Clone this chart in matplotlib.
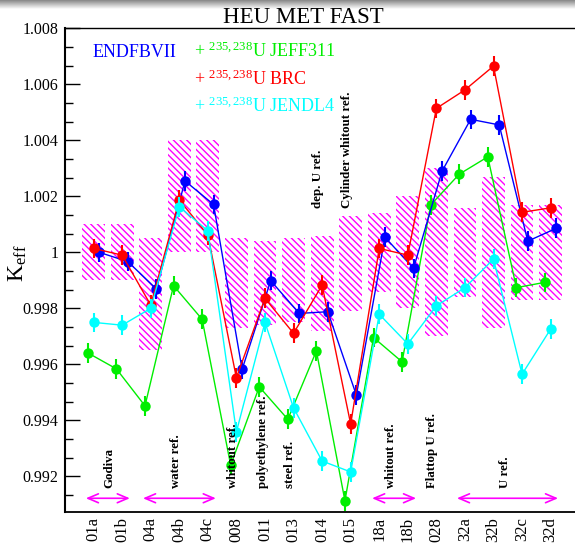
import numpy as np
import matplotlib
matplotlib.use('Agg')
import matplotlib.pyplot as plt
from matplotlib.ticker import MultipleLocator, AutoMinorLocator, FuncFormatter

plt.rcParams['font.family'] = ['Liberation Serif', 'DejaVu Serif']
plt.rcParams['mathtext.fontset'] = 'custom'
plt.rcParams['mathtext.rm'] = 'Liberation Serif'
plt.rcParams['mathtext.it'] = 'Liberation Serif:italic'
plt.rcParams['hatch.linewidth'] = 1.0

# benchmark cases (HEU-MET-FAST-xxx)
cases = ['01a', '01b', '04a', '04b', '04c', '008', '011', '013', '014',
         '015', '18a', '18b', '028', '32a', '32b', '32c', '32d']

# calculated keff per library
endfb7 = [1.00000, 0.99967, 0.99869, 1.00255, 1.00171, 0.99582, 0.99899, 0.99782, 0.99788,
          0.99490, 1.00054, 0.99943, 1.00290, 1.00475, 1.00455, 1.00040, 1.00086]
jeff311 = [0.99641, 0.99584, 0.99452, 0.99881, 0.99761, 0.99240, 0.99520, 0.99404, 0.99648,
           0.99113, 0.99696, 0.99609, 1.00169, 1.00279, 1.00341, 0.99874, 0.99893]
brc = [1.00014, 0.99990, 0.99812, 1.00187, 1.00062, 0.99552, 0.99836, 0.99711, 0.99883,
       0.99387, 1.00014, 0.99990, 1.00514, 1.00580, 1.00665, 1.00143, 1.00159]
jendl4 = [0.99750, 0.99740, 0.99800, 1.00163, 1.00077, 0.99359, 0.99750, 0.99445, 0.99255,
          0.99216, 0.99779, 0.99673, 0.99809, 0.99874, 0.99976, 0.99565, 0.99726]
stat_err = 0.00035

# benchmark experimental uncertainty band
exp_low = [0.9990, 0.9990, 0.9965, 1.0000, 1.0000, 0.9973, 0.9974, 0.9975, 0.9972,
           0.9979, 0.9986, 0.9980, 0.9970, 0.9984, 0.9973, 0.9983, 0.9983]
exp_high = [1.0010, 1.0010, 1.0005, 1.0040, 1.0040, 1.0005, 1.0004, 1.0005, 1.0006,
            1.0013, 1.0014, 1.0020, 1.0030, 1.0016, 1.0027, 1.0017, 1.0017]

# group labels: text, x position, anchored low / high
notes = [('Godiva', 0.57, 'low'), ('water ref.', 2.87, 'low'), ('whitout ref.', 4.89, 'low'),
         ('polyethylene ref.', 5.92, 'low'), ('steel ref.', 6.87, 'low'),
         ('dep. U ref.', 7.86, 'high'), ('Cylinder whitout ref.', 8.86, 'high'),
         ('whitout ref.', 10.4, 'low'), ('Flattop U ref.', 11.83, 'low'), ('U ref.', 14.4, 'low')]
arrows = [(-0.27, 1.27), (1.73, 4.28), (9.75, 11.29), (12.72, 16.26)]

W, H = 575, 543
fig = plt.figure(figsize=(W / 100, H / 100), dpi=100)
ax = fig.add_axes([65 / W, 31 / H, 514.2 / W, 484 / H])

x = np.arange(len(cases))
lo = np.array(exp_low)
hi = np.array(exp_high)
ax.bar(x, hi - lo, bottom=lo, width=0.8, facecolor='none', edgecolor='#ff00ff',
       linewidth=0, hatch='\\\\\\\\\\', zorder=1)

green, blue, red, cyan = '#00ee00', '#0000ff', '#ff0000', '#00ffff'
series = [(jeff311, green, -0.2), (endfb7, blue, 0.2), (brc, red, 0.0), (jendl4, cyan, 0.0)]
for i, (vals, col, dx) in enumerate(series):
    ax.errorbar(x + dx, vals, yerr=stat_err, fmt='o-', color=col, ms=7.5, mew=0,
                lw=1, elinewidth=1.5, capsize=0, zorder=3 + i)

y_low, y_high = 0.99158, 1.00158
for txt, xp, where in notes:
    ax.text(xp, y_low if where == 'low' else y_high, txt, rotation=90, ha='center',
            va='bottom', fontsize=9.3, fontweight='bold', zorder=10)
for x0, x1 in arrows:
    ax.annotate('', xy=(x1, 0.99122), xytext=(x0, 0.99122),
                arrowprops=dict(arrowstyle='<->,head_length=0.75,head_width=0.32',
                                color='#ff00ff', lw=1.2, shrinkA=0, shrinkB=0), zorder=10)

ax.set_xlim(-1, 17)
ax.set_ylim(0.99073, 1.00801)
ax.set_xticks(x)
ax.set_xticklabels(cases, rotation=90, fontsize=12)
ax.tick_params(axis='x', length=0, pad=3.4)
ax.yaxis.set_major_locator(MultipleLocator(0.002))
ax.yaxis.set_minor_locator(AutoMinorLocator(3))
ax.yaxis.set_major_formatter(FuncFormatter(lambda v, p: '1' if abs(v - 1) < 1e-9 else '%.3f' % v))
ax.tick_params(axis='y', which='major', direction='in', length=10.8, width=1, labelsize=11.5, pad=4.8)
ax.tick_params(axis='y', which='minor', direction='in', length=5.5, width=1)
ax.spines['left'].set_linewidth(1.5)
ax.spines['bottom'].set_linewidth(1.3)
ax.spines['top'].set_linewidth(1.0)

fig.text(18 / W, 1 - 263 / H, r'K$_{\rm eff}$', rotation=90, ha='center', va='center', fontsize=17)
fig.text(303 / W, 1 - 23.3 / H, 'HEU MET FAST', ha='center', va='baseline', fontsize=16.5)

fig.text(93 / W, 1 - 56.7 / H, 'ENDFBVII', color=blue, fontsize=13, va='baseline')
fig.text(194 / W, 1 - 56.7 / H, r'+ $^{\rm 235,238}$U JEFF311', color=green, fontsize=13, va='baseline')
fig.text(194 / W, 1 - 85 / H, r'+ $^{\rm 235,238}$U BRC', color=red, fontsize=13, va='baseline')
fig.text(194 / W, 1 - 111.7 / H, r'+ $^{\rm 235,238}$U JENDL4', color=cyan, fontsize=13, va='baseline')

# screenshot shading along the top edge
band = fig.add_axes([0, 1 - 9 / H, 1, 9 / H])
band.imshow(np.linspace(0.55, 0.97, 9)[:, None], cmap='gray', vmin=0, vmax=1, aspect='auto')
band.axis('off')

fig.savefig('out.png', dpi=100)
